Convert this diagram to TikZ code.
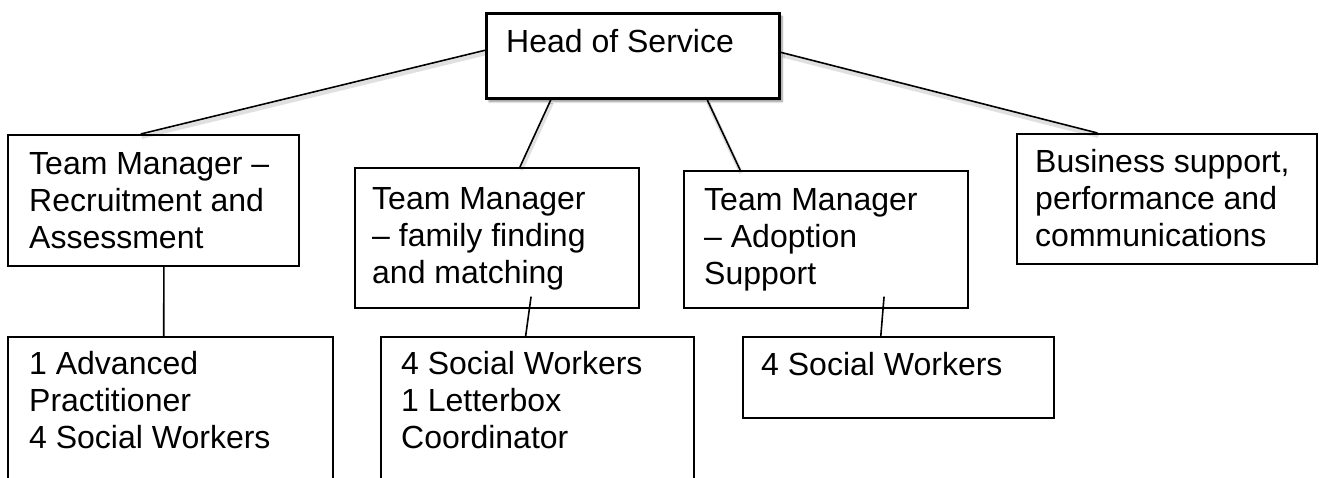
\documentclass[tikz,border=0pt]{standalone}
\usepackage{fontspec}
\setmainfont{Liberation Sans}
\usetikzlibrary{calc,shadows.blur,backgrounds}
\begin{document}
\begin{tikzpicture}[x=1pt,y=-1pt,
  box/.style={draw=black, line width=1.6pt, rectangle, inner sep=0pt, anchor=north west},
  headbox/.style={draw=black, line width=3pt, rectangle, inner sep=0pt, anchor=north west, fill=white,
    blur shadow={shadow xshift=2.5pt, shadow yshift=-3pt, shadow blur steps=6, shadow opacity=45}},
  txt/.style={anchor=base west, inner sep=0pt, align=left, font=\fontsize{32}{37}\selectfont},
  link/.style={draw=black, line width=1.6pt},
  hlink/.style={draw=black, line width=1.6pt,
    preaction={draw=black!12, line width=4pt, transform canvas={shift={(1pt,-3pt)}}}}
]
\useasboundingbox (0,0) rectangle (1319,477);

% boxes
\node[headbox, minimum width=293pt, minimum height=85pt] (hos) at (485,12) {};
\node[box, minimum width=291pt, minimum height=131pt] (rec) at (7,134) {};
\node[box, minimum width=284pt, minimum height=140pt] (ff) at (354,167) {};
\node[box, minimum width=284pt, minimum height=137pt] (ad) at (683,170) {};
\node[box, minimum width=300pt, minimum height=130pt] (bs) at (1016,133) {};
\node[box, minimum width=325pt, minimum height=170pt] (b1) at (7,336) {};
\node[box, minimum width=313pt, minimum height=170pt] (b2) at (380,336) {};
\node[box, minimum width=311pt, minimum height=81pt] (b3) at (742,336) {};

% texts (base anchor = baseline of the last line)
\node[txt] (thos) at (506,52) {Head of Service};
\node[txt] (trec) at (29,248) {Team Manager --\\Recruitment and\\Assessment};
\node[txt] (tff) at (372,283) {Team Manager\\-- family finding\\and matching};
\node[txt] (tad) at (704,284) {Team Manager\\-- Adoption\\Support};
\node[txt] (tbs) at (1035,246) {Business support,\\performance and\\communications};
\node[txt] (tb1) at (29,448) {1 Advanced\\Practitioner\\4 Social Workers};
\node[txt] (tb2) at (401,448) {4 Social Workers\\1 Letterbox\\Coordinator};
\node[txt] (tb3) at (761,375) {4 Social Workers};

% connectors
\begin{scope}[on background layer]
\draw[hlink] ($(hos.north west)!0.435!(hos.south west)$) -- ($(rec.north west)!0.457!(rec.north east)$);
\draw[hlink] ($(hos.south west)!0.222!(hos.south east)$) -- ($(ff.north west)!0.581!(ff.north east)$);
\draw[hlink] ($(hos.south west)!0.751!(hos.south east)$) -- ($(ad.north west)!0.2!(ad.north east)$);
\draw[hlink] ($(hos.north east)!0.459!(hos.south east)$) -- ($(bs.north west)!0.27!(bs.north east)$);
\end{scope}
\draw[link] ($(rec.south west)!0.536!(rec.south east)$) -- ($(b1.north west)!0.48!(b1.north east)$);
\draw[link] ($(ff.south west)!0.62!(ff.south east)+(0pt,12pt)$) -- ($(b2.north west)!0.463!(b2.north east)$);
\draw[link] ($(ad.south west)!0.704!(ad.south east)+(0pt,12pt)$) -- ($(b3.north west)!0.444!(b3.north east)$);
\end{tikzpicture}
\end{document}
